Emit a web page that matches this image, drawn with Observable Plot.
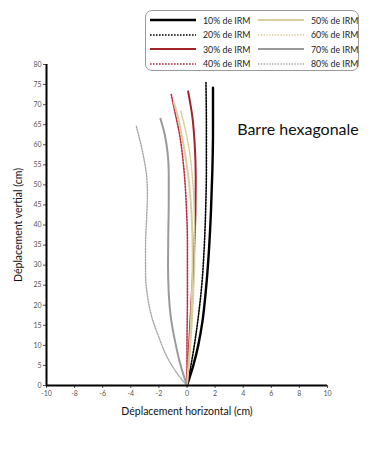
<!DOCTYPE html>
<html><head><meta charset="utf-8">
<script src="https://cdn.jsdelivr.net/npm/d3@7"></script>
<script src="https://cdn.jsdelivr.net/npm/@observablehq/plot@0.6"></script>
<style>
body{margin:0;background:#fff;font-family:Lato,"Open Sans",sans-serif;}
#wrap{position:relative;width:384px;height:452px;}
#legend{position:absolute;left:145px;top:10px;width:214px;height:61px;border:1px solid #9a9a9a;border-radius:7px;box-sizing:border-box;font-size:8.8px;color:#222;}
.item{position:absolute;display:flex;align-items:center;height:12px;white-space:nowrap;}
.item svg{margin-right:7px;flex:none;}
</style></head><body>
<div id="wrap"><div id="chart"></div><div id="legend"></div></div>
<script>
const labels = ["10% de IRM","20% de IRM","30% de IRM","40% de IRM","50% de IRM","60% de IRM","70% de IRM","80% de IRM"];
const colors = ["#000000","#000000","#a3232b","#c22a45","#d9cf9e","#d6cd9c","#9a9a9a","#a8a8a8"];
const widths = [2.4,1.6,2,1.6,2,1.5,2,1.4];
const dashes = [null,"1.6,1.4",null,"1.6,1.4",null,"1.4,1.4",null,"1.4,1.4"];

const irm10 = [[0,0],[0.45,5],[0.8,10],[1.1,16],[1.35,24],[1.55,33],[1.7,43],[1.8,53],[1.85,63],[1.85,74.2]];
const irm20 = [[0,0],[0.28,5],[0.52,10],[0.8,17],[1.05,25],[1.22,34],[1.33,44],[1.38,54],[1.38,64],[1.35,75.5]];
const irm30 = [[0,0],[0.15,10],[0.33,22],[0.5,33],[0.6,43],[0.62,52],[0.55,60],[0.38,67],[0.08,73.3]];
const irm40 = [[0,0],[0.0,10],[0.03,22],[0.03,35],[-0.05,45],[-0.25,55],[-0.55,63],[-0.85,68],[-1.12,72.5]];
const irm50 = [[0,0],[0.2,10],[0.35,22],[0.4,33],[0.32,43],[0.1,52],[-0.3,61],[-0.65,67],[-0.94,70.6]];
const irm60 = [[0,0],[0.25,10],[0.45,22],[0.55,33],[0.52,43],[0.38,52],[0.1,60],[-0.2,65],[-0.46,68.7]];
const irm70 = [[0,0],[-0.45,5],[-0.85,11],[-1.15,17],[-1.3,23],[-1.35,30],[-1.33,38],[-1.3,46],[-1.3,53],[-1.38,58],[-1.58,62.5],[-1.89,66.5]];
const irm80 = [[0,0],[-0.7,3],[-1.4,7],[-2.0,12],[-2.5,17],[-2.8,22],[-2.95,28],[-2.95,35],[-2.87,42],[-2.82,48],[-2.9,53],[-3.15,58],[-3.62,64.8]];
const series = [irm10,irm20,irm30,irm40,irm50,irm60,irm70,irm80];

const xTicks = [-10,-8,-6,-4,-2,0,2,4,6,8,10];
const yTicks = [0,5,10,15,20,25,30,35,40,45,50,55,60,65,70,75,80];
const title = "Barre hexagonale";

const lineMarks = series.map((s,i) => Plot.line(s.map(([x,y])=>({x,y})), {
  x:"x", y:"y", curve:"monotone-y", stroke: colors[i], strokeWidth: widths[i],
  strokeDasharray: dashes[i] || undefined
}));

const chart = Plot.plot({
  width:384, height:452,
  marginLeft:46, marginRight:57, marginTop:64, marginBottom:67,
  style:{fontFamily:"Lato, 'Open Sans', sans-serif", background:"transparent"},
  x:{domain:[-10,10]},
  y:{domain:[0,80]},
  marks:[
    Plot.axisX({ticks:xTicks, tickFormat:d=>String(d), tickSize:3, tickPadding:3, fontSize:7, color:"#555", label:"Déplacement horizontal (cm)", labelAnchor:"center", labelArrow:"none", labelOffset:29}),
    Plot.axisY({ticks:yTicks, tickFormat:d=>String(d), tickSize:3, tickPadding:2, fontSize:7, color:"#555", label:"Déplacement vertial (cm)", labelAnchor:"center", labelArrow:"none", labelOffset:32}),
    ...lineMarks,
    Plot.ruleY([0], {stroke:"#000", strokeWidth:2}),
    Plot.ruleX([-10], {stroke:"#000", strokeWidth:2}),
    Plot.text([title], {x:7.9, y:63.6, text:d=>d, fontSize:16, fill:"#111", fontFamily:"Lato, sans-serif"})
  ]
});
chart.querySelectorAll('g[aria-label="x-axis label"] text, g[aria-label="y-axis label"] text').forEach(t=>{t.setAttribute("font-size","10.5");t.setAttribute("fill","#111");});
document.getElementById("chart").appendChild(chart);

const leg = document.getElementById("legend");
labels.forEach((lab,i)=>{
  const col = i<4?0:1, row = i%4;
  const d = document.createElement("div");
  d.className="item";
  d.style.left = (col===0?4:112)+"px";
  d.style.top = (3+row*14.5)+"px";
  d.innerHTML = `<svg width="46" height="6"><line x1="0" y1="3" x2="46" y2="3" stroke="${colors[i]}" stroke-width="${widths[i]}" ${dashes[i]?`stroke-dasharray="${dashes[i]}"`:""}/></svg><span>${lab}</span>`;
  leg.appendChild(d);
});
</script></body></html>
